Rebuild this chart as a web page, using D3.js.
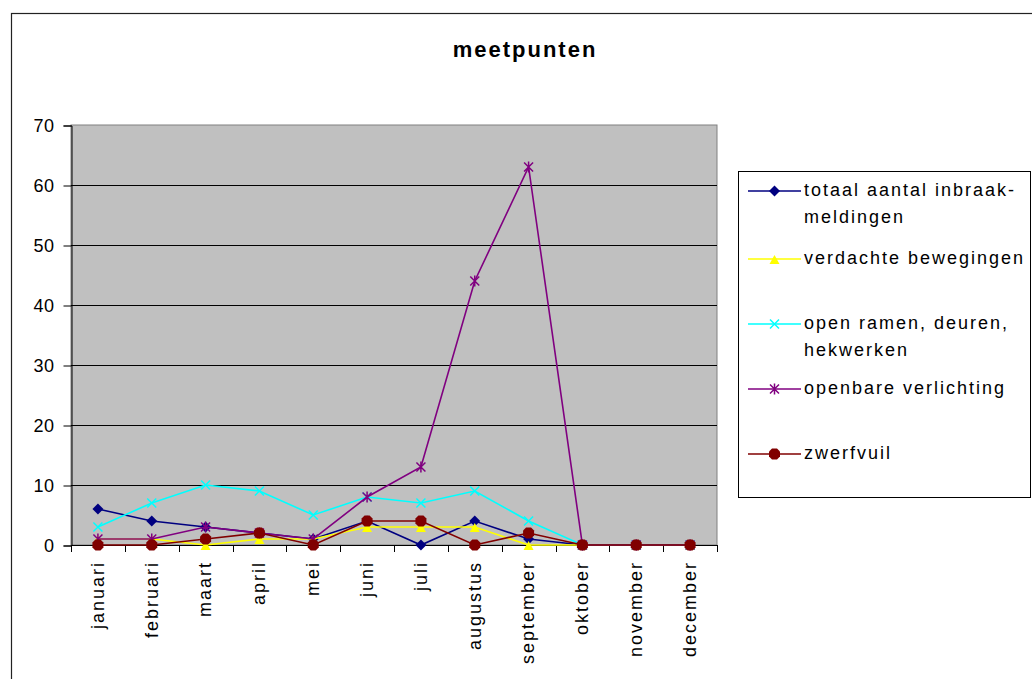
<!DOCTYPE html>
<html>
<head>
<meta charset="utf-8">
<script src="https://cdn.jsdelivr.net/npm/d3@7"></script>
<style>
  html, body { margin: 0; padding: 0; background: #fff; }
  svg { display: block; }
  text { font-family: "Liberation Sans", Arial, sans-serif; fill: #000; }
</style>
</head>
<body>
<svg id="chart" width="1032" height="679"></svg>
<script>
const title = "meetpunten";
const months = ["januari","februari","maart","april","mei","juni","juli","augustus","september","oktober","november","december"];
const yTicks = [0, 10, 20, 30, 40, 50, 60, 70];

const seriesNames = [
  ["totaal aantal inbraak-", "meldingen"],
  ["verdachte bewegingen"],
  ["open ramen, deuren,", "hekwerken"],
  ["openbare verlichting"],
  ["zwerfvuil"]
];
const totaal     = [6, 4, 3, 2, 1, 4, 0, 4, 1, 0, 0, 0];
const verdachte  = [1, 1, 0, 1, 1, 3, 3, 3, 0, 0, 0, 0];
const openRamen  = [3, 7, 10, 9, 5, 8, 7, 9, 4, 0, 0, 0];
const verlichting= [1, 1, 3, 2, 1, 8, 13, 44, 63, 0, 0, 0];
const zwerfvuil  = [0, 0, 1, 2, 0, 4, 4, 0, 2, 0, 0, 0];

const seriesValues = [totaal, verdachte, openRamen, verlichting, zwerfvuil];
const colors = ["#000080", "#FFFF00", "#00FFFF", "#800080", "#800000"];
const markers = ["diamond", "triangle", "x", "asterisk", "circle"];

const svg = d3.select("#chart");

// outer chart border
svg.append("rect").attr("x", 11.5).attr("y", 13.5).attr("width", 1040).attr("height", 700)
  .attr("fill", "#fff").attr("stroke", "#222").attr("stroke-width", 1.2);

const plot = {left: 71, right: 717, top: 125, bottom: 545};

const x = d3.scaleBand().domain(months).range([plot.left, plot.right]).padding(0);
const y = d3.scaleLinear().domain([0, 70]).range([plot.bottom, plot.top]);
const cx = m => x(m) + x.bandwidth() / 2;

// plot background
svg.append("rect").attr("x", plot.left).attr("y", plot.top)
  .attr("width", plot.right - plot.left).attr("height", plot.bottom - plot.top)
  .attr("fill", "#C0C0C0").attr("stroke", "#808080").attr("stroke-width", 1);

// gridlines
svg.append("g").selectAll("line").data(yTicks.filter(t => t > 0 && t < 70)).join("line")
  .attr("x1", plot.left).attr("x2", plot.right)
  .attr("y1", d => Math.round(y(d)) + 0.5).attr("y2", d => Math.round(y(d)) + 0.5)
  .attr("stroke", "#000").attr("stroke-width", 1);

// y axis
const yAxis = d3.axisLeft(y).tickValues(yTicks).tickSize(8).tickPadding(9);
const gy = svg.append("g").attr("transform", `translate(${plot.left + 0.5},0.5)`).call(yAxis);
gy.select(".domain").attr("stroke", "#000");
gy.selectAll(".tick line").attr("stroke", "#000");
gy.selectAll(".tick text").attr("font-size", 18).attr("letter-spacing", 0.5)
  .attr("font-family", "Liberation Sans, Arial, sans-serif").attr("fill", "#000");

// x axis line and ticks at category boundaries
const gx = svg.append("g");
gx.append("line").attr("x1", plot.left).attr("x2", plot.right)
  .attr("y1", plot.bottom + 0.5).attr("y2", plot.bottom + 0.5).attr("stroke", "#000");
const bounds = months.map(m => x(m)).concat([x(months[months.length - 1]) + x.bandwidth()]);
gx.selectAll("line.tk").data(bounds).join("line").attr("class", "tk")
  .attr("x1", d => Math.round(d) + 0.5).attr("x2", d => Math.round(d) + 0.5)
  .attr("y1", plot.bottom).attr("y2", plot.bottom + 7).attr("stroke", "#000");
gx.selectAll("text").data(months).join("text")
  .attr("transform", d => `translate(${cx(d) + 1},${plot.bottom + 16}) rotate(-90)`)
  .attr("text-anchor", "end").attr("dominant-baseline", "middle")
  .attr("font-size", 18).attr("letter-spacing", 2)
  .text(d => d);

// marker drawing
function drawMarker(g, type, color) {
  if (type === "diamond") {
    g.append("path").attr("d", "M0,-5.5L5.5,0L0,5.5L-5.5,0Z").attr("fill", color);
  } else if (type === "triangle") {
    g.append("path").attr("d", "M0,-4L5,5L-5,5Z").attr("fill", color);
  } else if (type === "x") {
    g.append("path").attr("d", "M-4.5,-4.5L4.5,4.5M-4.5,4.5L4.5,-4.5").attr("stroke", color).attr("stroke-width", 1.5).attr("fill", "none");
  } else if (type === "asterisk") {
    g.append("path").attr("d", "M-4.5,-4.5L4.5,4.5M-4.5,4.5L4.5,-4.5M0,-5.5L0,5.5").attr("stroke", color).attr("stroke-width", 1.5).attr("fill", "none");
  } else if (type === "circle") {
    g.append("path").attr("d", "M-2.5,-5.5L2.5,-5.5L5.5,-2.5L5.5,2.5L2.5,5.5L-2.5,5.5L-5.5,2.5L-5.5,-2.5Z").attr("fill", color);
  }
}

const line = d3.line().x((d, i) => cx(months[i])).y(d => y(d));

seriesValues.forEach((vals, si) => {
  const g = svg.append("g");
  g.append("path").datum(vals).attr("d", line)
    .attr("fill", "none").attr("stroke", colors[si]).attr("stroke-width", 1.6);
  vals.forEach((v, i) => {
    const mg = g.append("g").attr("transform", `translate(${cx(months[i])},${y(v)})`);
    drawMarker(mg, markers[si], colors[si]);
  });
});

// title
svg.append("text").attr("x", 525).attr("y", 57).attr("text-anchor", "middle")
  .attr("font-size", 22).attr("font-weight", "bold")
  .attr("letter-spacing", 2)
  .text(title);

// legend
const lg = svg.append("g");
lg.append("rect").attr("x", 738.5).attr("y", 171.5).attr("width", 292).attr("height", 326)
  .attr("fill", "#fff").attr("stroke", "#000").attr("stroke-width", 1);
const legendY = [191, 259, 324, 389, 454];
seriesNames.forEach((names, si) => {
  const ly = legendY[si];
  const g = lg.append("g");
  g.append("line").attr("x1", 748).attr("x2", 801).attr("y1", ly).attr("y2", ly)
    .attr("stroke", colors[si]).attr("stroke-width", 1.6);
  const mg = g.append("g").attr("transform", `translate(774.5,${ly})`);
  drawMarker(mg, markers[si], colors[si]);
  names.forEach((t, k) => {
    g.append("text").attr("x", 804).attr("y", ly + k * 27)
      .attr("dominant-baseline", "middle").attr("font-size", 18).attr("letter-spacing", 2)
      .text(t);
  });
});
</script>
</body>
</html>
